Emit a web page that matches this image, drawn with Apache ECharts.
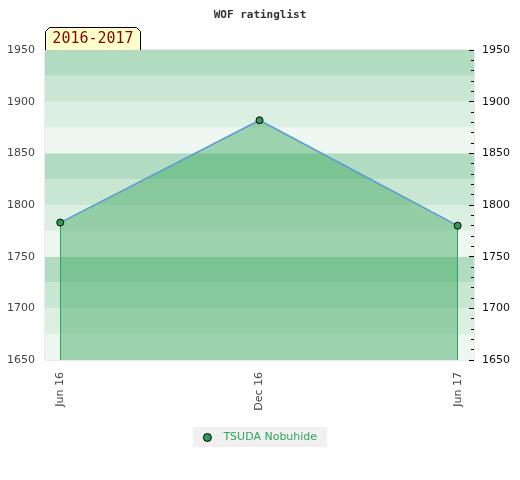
<!DOCTYPE html>
<html>
<head>
<meta charset="utf-8">
<script src="https://cdn.jsdelivr.net/npm/echarts@6/dist/echarts.min.js"></script>
<style>html,body{margin:0;padding:0;background:#fff}#c{width:520px;height:480px}</style>
</head>
<body>
<div id="c"></div>
<script>
var titleText = 'WOF ratinglist';
var periodLabel = '2016-2017';
var seriesName = 'TSUDA Nobuhide';
var dates = ['2016-06-01', '2016-12-01', '2017-06-01'];
var ratings = [1783, 1882, 1780];
var xTickDates = ['2016-06-01', '2016-12-01', '2017-06-01'];
var yMin = 1650, yMax = 1950, yStep = 50;
var monthNames = ['Jan','Feb','Mar','Apr','May','Jun','Jul','Aug','Sep','Oct','Nov','Dec'];

function ts(s) { var p = s.split('-'); return new Date(+p[0], +p[1] - 1, +p[2]).getTime(); }

var xMin = new Date(2016, 4, 18).getTime();
var xMax = new Date(2017, 5, 16).getTime();

var data = dates.map(function (d, i) { return [ts(d), ratings[i]]; });
var tickTs = xTickDates.map(ts);
var first = data[0], last = data[data.length - 1];

var chart = echarts.init(document.getElementById('c'), null, { renderer: 'canvas' });
chart.setOption({
  animation: false,
  title: {
    text: titleText, left: 'center', top: 5,
    textStyle: { fontFamily: 'DejaVu Sans Mono', fontSize: 11, fontWeight: 'bold', color: '#333' }
  },
  grid: { left: 45, right: 46, top: 50, bottom: 120, show: true, borderColor: '#d6d6d6', borderWidth: 1, backgroundColor: 'transparent' },
  legend: {
    bottom: 33, left: 'center',
    backgroundColor: '#f0f0f0', padding: [5, 10, 4, 10],
    itemWidth: 8, itemHeight: 8, itemGap: 8,
    formatter: function (n) { return '  ' + n; },
    textStyle: { color: '#2ea85a', fontFamily: 'DejaVu Sans', fontSize: 11 },
    data: [{ name: seriesName, icon: 'circle', itemStyle: { color: '#2e9b55', borderColor: '#000', borderWidth: 1 } }]
  },
  xAxis: {
    type: 'value', min: xMin, max: xMax, scale: true,
    axisLine: { show: false },
    splitLine: { show: false },
    axisTick: { show: false },
    axisLabel: {
      customValues: tickTs, rotate: 90, margin: 12, color: '#444',
      fontFamily: 'DejaVu Sans', fontSize: 11,
      formatter: function (v) { var d = new Date(v); return monthNames[d.getMonth()] + ' ' + String(d.getFullYear()).slice(2); }
    }
  },
  yAxis: [
    {
      type: 'value', position: 'left', min: yMin, max: yMax, interval: yStep,
      axisLine: { show: false }, axisTick: { show: false }, splitLine: { show: false },
      axisLabel: { color: '#444', fontFamily: 'DejaVu Sans', fontSize: 11, margin: 10, formatter: function (v) { return String(v); } }
    },
    {
      type: 'value', position: 'right', min: yMin, max: yMax, interval: yStep,
      axisLine: { show: false },
      axisTick: { show: true, inside: true, length: 5, lineStyle: { color: '#000' } },
      minorTick: { show: true, splitNumber: 5, length: 3, lineStyle: { color: '#000' } },
      splitLine: { show: false },
      axisLabel: { color: '#111', fontFamily: 'DejaVu Sans', fontSize: 11, margin: 8, formatter: function (v) { return String(v); } }
    },
    {
      type: 'value', position: 'left', min: yMin, max: yMax, interval: yStep / 2,
      axisLine: { show: false }, axisTick: { show: false }, axisLabel: { show: false }, splitLine: { show: false },
      splitArea: { show: true, areaStyle: { color: ['#eef7f1', '#dcefe3', '#c9e6d3', '#b2dcc2'] } }
    }
  ],
  series: [{
    name: seriesName, type: 'line', yAxisIndex: 0, data: data,
    symbol: 'circle', symbolSize: 7, showSymbol: true,
    lineStyle: { color: '#5b9bd5', width: 1.5 },
    itemStyle: { color: '#2e9b55', borderColor: '#000', borderWidth: 1 },
    areaStyle: { color: 'rgba(46,160,80,0.42)', opacity: 1, origin: 'start' },
    emphasis: { disabled: true },
    z: 5,
    markLine: {
      silent: true, symbol: 'none', label: { show: false },
      lineStyle: { color: '#2eaa55', width: 1, type: 'solid' },
      data: [
        [{ coord: [first[0], first[1]] }, { coord: [first[0], yMin] }],
        [{ coord: [last[0], last[1]] }, { coord: [last[0], yMin] }]
      ]
    }
  }],
  graphic: [{
    type: 'group', left: 45, top: 27,
    children: [
      { type: 'polygon', shape: { points: [[0, 23], [0, 4], [4, 0], [91, 0], [95, 4], [95, 23]] },
        style: { fill: '#ffffcc', stroke: '#000', lineWidth: 1 } },
      { type: 'text', x: 47.5, y: 12, style: { text: periodLabel, fill: '#8b0000', font: '15px "DejaVu Sans Mono"', align: 'center', verticalAlign: 'middle' } }
    ]
  }]
});
</script>
</body>
</html>
